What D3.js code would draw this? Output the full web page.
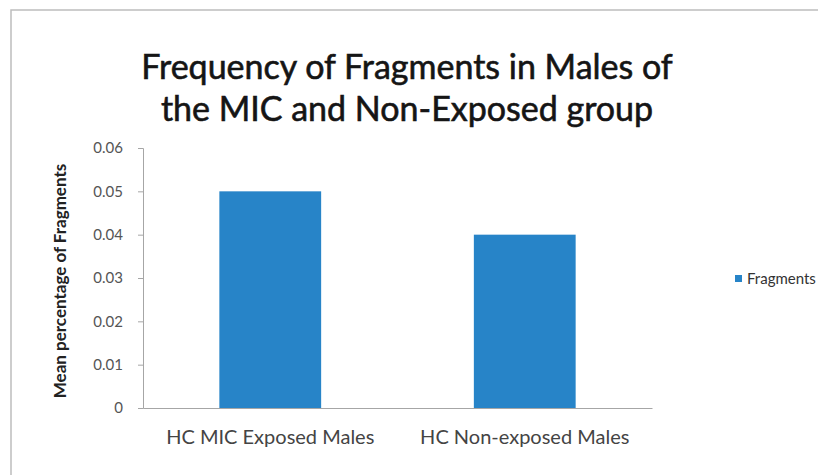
<!DOCTYPE html>
<html>
<head>
<meta charset="utf-8">
<script src="https://cdn.jsdelivr.net/npm/d3@7"></script>
<style>
  body { margin: 0; background: #fff; }
  svg { display: block; }
</style>
</head>
<body>
<div id="chart"></div>
<script>
var categories = ["HC MIC Exposed Males", "HC Non-exposed Males"];
var fragments = [0.05, 0.04];
var yTicks = [0, 0.01, 0.02, 0.03, 0.04, 0.05, 0.06];
var seriesName = "Fragments";
var titleLines = ["Frequency of Fragments in Males of", "the MIC and Non-Exposed group"];

var width = 818, height = 475;
var font = "Lato, 'Open Sans', sans-serif";
var barColor = "#2784c8";

var svg = d3.select("#chart").append("svg")
  .attr("width", width)
  .attr("height", height);

svg.append("rect")
  .attr("x", 11).attr("y", 10)
  .attr("width", 830).attr("height", 500)
  .attr("fill", "#fff")
  .attr("stroke", "#bdbdbd")
  .attr("stroke-width", 1.5);

// title, two lines
svg.append("g").selectAll("text")
  .data(titleLines)
  .enter().append("text")
  .attr("x", 407)
  .attr("y", function(d, i) { return 79 + i * 42; })
  .attr("text-anchor", "middle")
  .attr("font-family", font)
  .attr("font-size", 34)
  .attr("fill", "#151515")
  .attr("stroke", "#151515")
  .attr("stroke-width", 0.6)
  .text(function(d) { return d; });

var x = d3.scaleBand()
  .domain(categories)
  .range([143, 652])
  .paddingInner(0.6)
  .paddingOuter(0.3);

var y = d3.scaleLinear()
  .domain([0, 0.06])
  .range([408, 148]);

// y axis
var yAxis = svg.append("g")
  .attr("transform", "translate(143,0)")
  .call(d3.axisLeft(y).tickValues(yTicks).tickSize(5).tickPadding(15)
    .tickFormat(function(d) { return d === 0 ? "0" : d3.format(".2f")(d); }));
yAxis.select(".domain").attr("stroke", "#a6a6a6");
yAxis.selectAll(".tick line").attr("stroke", "#a6a6a6");
yAxis.selectAll("text")
  .attr("font-family", font)
  .attr("font-size", 15)
  .attr("fill", "#555");

svg.append("g").selectAll("rect")
  .data(fragments)
  .enter().append("rect")
  .attr("x", function(d, i) { return x(categories[i]); })
  .attr("y", function(d) { return y(d); })
  .attr("width", x.bandwidth())
  .attr("height", function(d) { return y(0) - y(d); })
  .attr("fill", barColor);

// x axis
var xAxis = svg.append("g")
  .attr("transform", "translate(0,408)")
  .call(d3.axisBottom(x).tickSize(0).tickPadding(22));
xAxis.select(".domain").attr("stroke", "#a6a6a6");
xAxis.selectAll("text")
  .attr("font-family", font)
  .attr("font-size", 20)
  .attr("fill", "#444");

svg.append("text")
  .attr("transform", "translate(66,281) rotate(-90)")
  .attr("text-anchor", "middle")
  .attr("font-family", font)
  .attr("font-size", 17)
  .attr("font-weight", "bold")
  .attr("fill", "#222")
  .text("Mean percentage of Fragments");

// legend
svg.append("rect")
  .attr("x", 735).attr("y", 275)
  .attr("width", 7).attr("height", 7)
  .attr("fill", barColor);
svg.append("text")
  .attr("x", 747).attr("y", 284)
  .attr("font-family", font)
  .attr("font-size", 15)
  .attr("fill", "#333")
  .text(seriesName);
</script>
</body>
</html>
